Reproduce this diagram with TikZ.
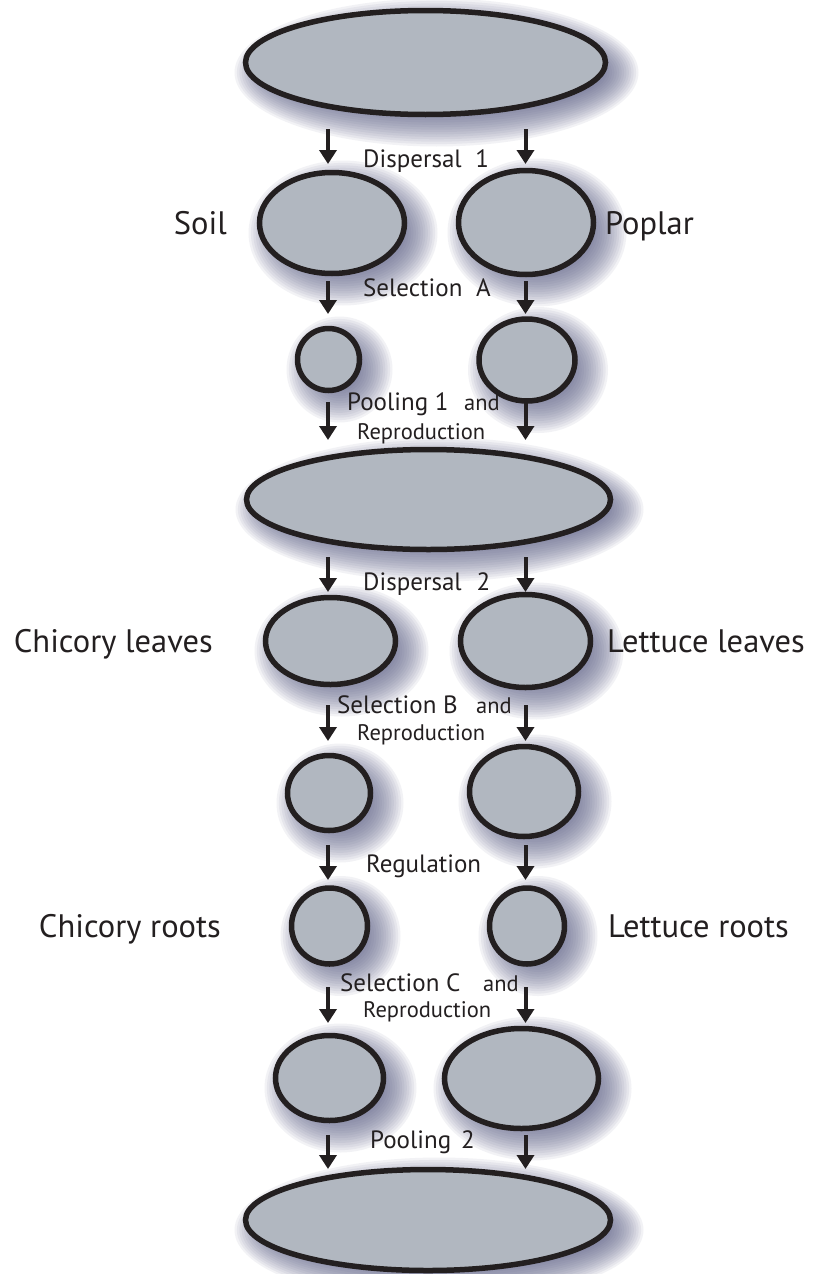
\documentclass[tikz,border=0pt]{standalone}
\usepackage{fontspec}
\setmainfont{PT Sans}
\usetikzlibrary{arrows.meta,shapes.geometric,calc}
\pgfdeclarelayer{canvas}
\pgfdeclarelayer{background}
\pgfsetlayers{canvas,background,main}
\definecolor{blobfill}{RGB}{177,183,192}
\definecolor{ink}{RGB}{35,31,32}
\definecolor{shadowc}{RGB}{88,92,132}
\tikzset{
  blob/.style={ellipse, draw=ink, line width=5.5pt, fill=blobfill, inner sep=0pt, outer sep=0pt},
  arr/.style={draw=ink, line width=4pt, -{Triangle[width=17pt,length=14pt]}},
  small/.style={font=\fontsize{25}{30}\selectfont, text=ink, inner sep=0pt},
  tiny/.style={font=\fontsize{22.5}{27}\selectfont, text=ink, inner sep=0pt},
  big/.style={font=\fontsize{32.5}{38}\selectfont, text=ink, inner sep=0pt},
}
\begin{document}
\begin{tikzpicture}[x=1pt,y=-1pt]
\begin{pgfonlayer}{canvas}
\fill[white] (0,0) rectangle (812,1274);
\end{pgfonlayer}
\useasboundingbox (0,0) rectangle (812,1274);
\def\blobs{top/425.5/62.5/360/104, soil/332/223/145/101, poplar/526/222.5/135/104,
  soilsel/328.5/359.5/62/62, poplarsel/527/360/96/82, pool1/428.5/499.5/364/100,
  chleaf/330.5/641/130/87, leleaf/525.5/641/130/93, chB/329/793/83/75, leB/524/791.5/109/90,
  chroot/329.5/926/76/76, leroot/527/926/75/76, chC/329.5/1078/108/85, leC/521.5/1078.5/154/100,
  pool2/428/1220/365/101}
% shadows
\begin{pgfonlayer}{background}
\foreach \n/\x/\y/\w/\h in \blobs {
  \foreach \k in {0,...,15} {
    \fill[shadowc, opacity=0.075] ({\x+11},{\y+10}) ellipse [x radius={(\w/2+22-2.4*\k)*1pt}, y radius={(\h/2+22-2.4*\k)*1pt}];
  }
}
\end{pgfonlayer}
% shapes
\foreach \n/\x/\y/\w/\h in \blobs {
  \node[blob, minimum width=\w pt, minimum height=\h pt] (\n) at (\x,\y) {};
}
% arrows
\foreach \i/\ys/\ye in {1/129/164, 2/281/314, 3/402/440, 4/557/592, 5/705/741, 6/845/880, 7/987/1023, 8/1135/1169} {
  \coordinate (L\i-s) at (328,\ys); \coordinate (L\i-e) at (328,\ye);
  \coordinate (R\i-s) at (525.5,\ys); \coordinate (R\i-e) at (525.5,\ye);
  \draw[arr] (L\i-s) -- (L\i-e);
  \draw[arr] (R\i-s) -- (R\i-e);
}
% big labels
\node[big, anchor=base east] (soilL) at (227,234) {Soil};
\node[big, anchor=base west] (poplarL) at (605,234) {Poplar};
\node[big, anchor=base east] (chleafL) at (213,652) {Chicory leaves};
\node[big, anchor=base west] (leleafL) at (607,652) {Lettuce leaves};
\node[big, anchor=base east] (chrootL) at (221,937) {Chicory roots};
\node[big, anchor=base west] (lerootL) at (608,937) {Lettuce roots};
% step labels
\node[small, anchor=base west] (tD1) at (363,167) {Dispersal\hspace{0.55em}1};
\node[small, anchor=base west] (tSA) at (363,296) {Selection\hspace{0.55em}A};
\node[small, anchor=base west] (tP1) at (347,410) {Pooling 1};
\node[tiny, anchor=base west] (tAnd1) at (464,410) {and};
\node[tiny, anchor=base west] (tRep1) at (357,439) {Reproduction};
\node[small, anchor=base west] (tD2) at (363,590) {Dispersal\hspace{0.6em}2};
\node[small, anchor=base west] (tSB) at (337,713) {Selection B};
\node[tiny, anchor=base west] (tAnd2) at (476,713) {and};
\node[tiny, anchor=base west] (tRep2) at (357,740) {Reproduction};
\node[small, anchor=base west] (tReg) at (366,872) {Regulation};
\node[small, anchor=base west] (tSC) at (340,991) {Selection C};
\node[tiny, anchor=base west] (tAnd3) at (483,991) {and};
\node[tiny, anchor=base west] (tRep3) at (363,1017) {Reproduction};
\node[small, anchor=base west] (tP2) at (370,1148) {Pooling\hspace{0.4em}2};
\end{tikzpicture}
\end{document}
